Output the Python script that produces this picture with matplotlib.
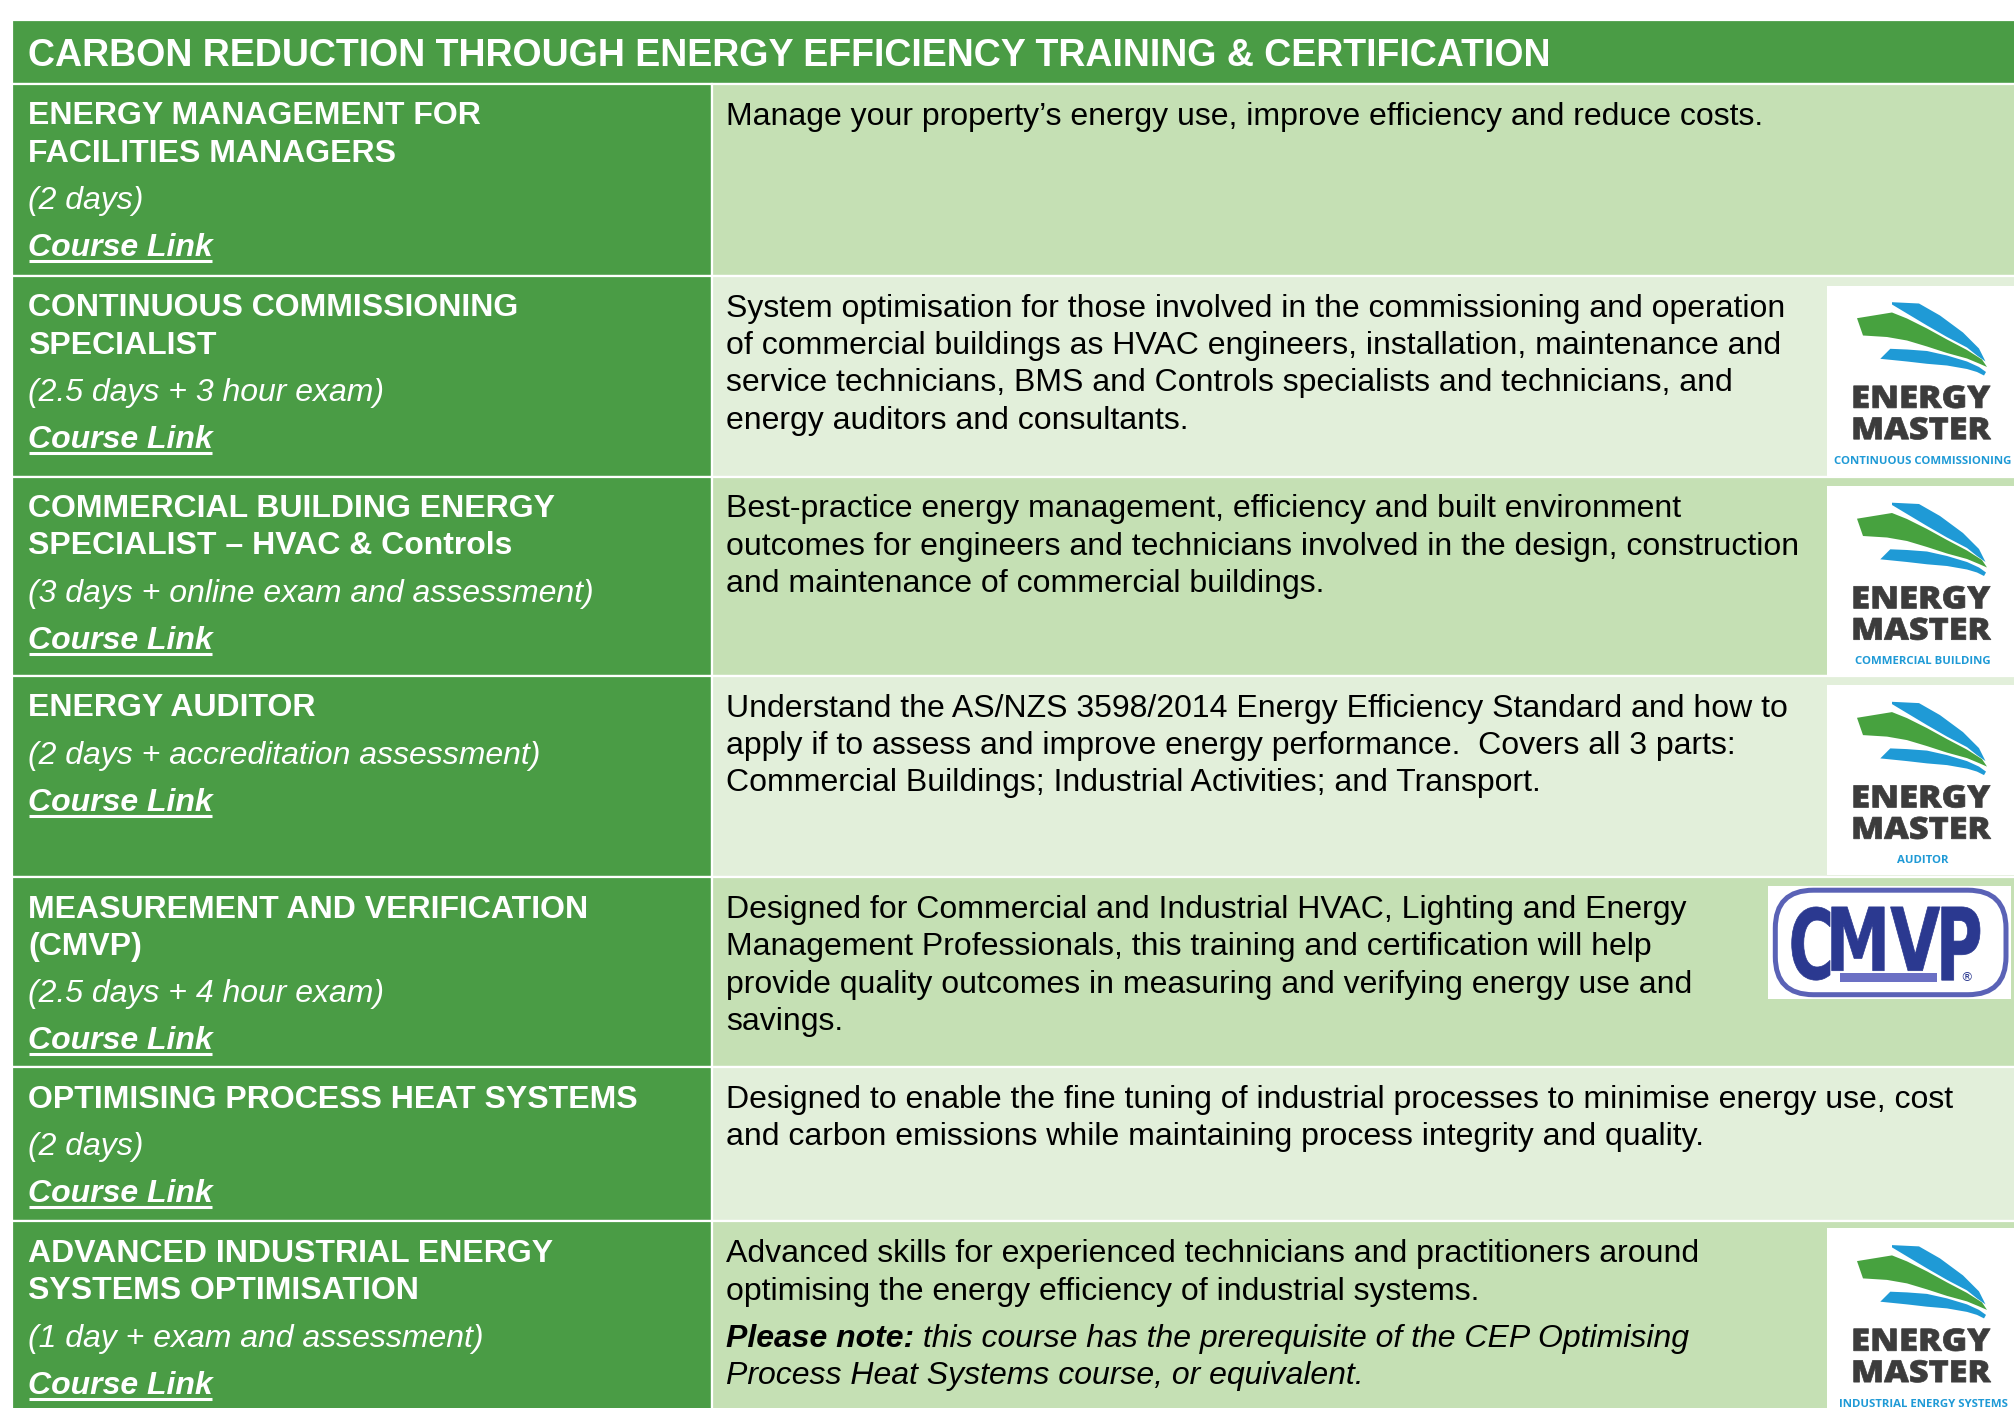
import matplotlib
matplotlib.use("Agg")
import matplotlib.pyplot as plt
from matplotlib.patches import Rectangle, Polygon, FancyBboxPatch, PathPatch
from matplotlib.textpath import TextPath
from matplotlib.font_manager import FontProperties
from matplotlib.transforms import Affine2D

# ---------------- data ----------------
table_title = "CARBON REDUCTION THROUGH ENERGY EFFICIENCY TRAINING & CERTIFICATION"

course_titles = [
    ["ENERGY MANAGEMENT FOR", "FACILITIES MANAGERS"],
    ["CONTINUOUS COMMISSIONING", "SPECIALIST"],
    ["COMMERCIAL BUILDING ENERGY", "SPECIALIST \u2013 HVAC & Controls"],
    ["ENERGY AUDITOR"],
    ["MEASUREMENT AND VERIFICATION", "(CMVP)"],
    ["OPTIMISING PROCESS HEAT SYSTEMS"],
    ["ADVANCED INDUSTRIAL ENERGY", "SYSTEMS OPTIMISATION"],
]

durations = [
    "(2 days)",
    "(2.5 days + 3 hour exam)",
    "(3 days + online exam and assessment)",
    "(2 days + accreditation assessment)",
    "(2.5 days + 4 hour exam)",
    "(2 days)",
    "(1 day + exam and assessment)",
]

link_label = "Course Link"

descriptions = [
    ["Manage your property\u2019s energy use, improve efficiency and reduce costs."],
    ["System optimisation for those involved in the commissioning and operation",
     "of commercial buildings as HVAC engineers, installation, maintenance and",
     "service technicians, BMS and Controls specialists and technicians, and",
     "energy auditors and consultants."],
    ["Best-practice energy management, efficiency and built environment",
     "outcomes for engineers and technicians involved in the design, construction",
     "and maintenance of commercial buildings."],
    ["Understand the AS/NZS 3598/2014 Energy Efficiency Standard and how to",
     "apply if to assess and improve energy performance.  Covers all 3 parts:",
     "Commercial Buildings; Industrial Activities; and Transport."],
    ["Designed for Commercial and Industrial HVAC, Lighting and Energy",
     "Management Professionals, this training and certification will help",
     "provide quality outcomes in measuring and verifying energy use and",
     "savings."],
    ["Designed to enable the fine tuning of industrial processes to minimise energy use, cost",
     "and carbon emissions while maintaining process integrity and quality."],
    ["Advanced skills for experienced technicians and practitioners around",
     "optimising the energy efficiency of industrial systems."],
]

note_labels = [None, None, None, None, None, None, "Please note:"]
note_texts = [None, None, None, None, None, None,
              [" this course has the prerequisite of the CEP Optimising",
               "Process Heat Systems course, or equivalent."]]

logo_kinds = [None, "energy", "energy", "energy", "cmvp", None, "energy"]
logo_subtitles = [None, "CONTINUOUS COMMISSIONING", "COMMERCIAL BUILDING", "AUDITOR",
                  None, None, "INDUSTRIAL ENERGY SYSTEMS"]
cmvp_letters = ["C", "MV", "P"]
logo_word1, logo_word2 = "ENERGY", "MASTER"

# ---------------- styling / layout ----------------
W, H = 2014, 1408
GREEN = "#4a9c45"
LIGHT1 = "#c5e0b4"
LIGHT2 = "#e2efda"
FONT = "Liberation Sans"
FS = 23
FS_HEAD = 27
LINE = 37.2

fig = plt.figure(figsize=(W / 100, H / 100), dpi=100)
ax = fig.add_axes([0, 0, 1, 1])
ax.set_xlim(0, W)
ax.set_ylim(H, 0)
ax.axis("off")

X_LEFT, X_DIV, X_RIGHT = 12, 711.5, W + 5
HEAD_TOP, HEAD_BOT = 20, 84
row_edges = [HEAD_BOT, 276, 476.5, 675.6, 877.2, 1067.3, 1221.4, H + 20]

renderer = fig.canvas.get_renderer()


def rect(x0, y0, x1, y1, color, ec="white", lw=1.6, z=1):
    ax.add_patch(Rectangle((x0, y0), x1 - x0, y1 - y0, facecolor=color,
                           edgecolor=ec, linewidth=lw, zorder=z))


def fit_path(s, x0, x1, ytop, ybase, color, family="DejaVu Sans", weight="bold", z=6):
    fp = FontProperties(family=family, weight=weight)
    tp = TextPath((0, 0), s, size=100, prop=fp)
    ext = tp.get_extents()
    tr = (Affine2D().translate(-ext.x0, -ext.y0)
          .scale((x1 - x0) / ext.width, -(ybase - ytop) / ext.height)
          .translate(x0, ybase))
    ax.add_patch(PathPatch(tr.transform_path(tp), facecolor=color,
                           edgecolor=color, linewidth=0.5, zorder=z))


def energy_logo(x0, y0, w, h, subtitle):
    rect(x0, y0, x0 + w, y0 + h, "white", ec="none", lw=0, z=3)

    def P(pts):
        return [(x0 + px, y0 + py) for px, py in pts]

    blue = "#1f9ad6"
    green = "#47a23f"
    blue_top = [(65, 16.7), (92, 18), (113, 30), (136, 47), (152, 63), (158.5, 76),
                (150, 70), (140, 62), (120, 51.5), (100, 40), (80, 28), (65, 19)]
    green_band = [(30, 32.7), (65, 27), (80, 33), (100, 43), (120, 54), (140, 64.5),
                  (155, 74), (160, 81.5), (152, 78), (140, 73), (120, 67.5), (100, 61),
                  (80, 55), (60, 51.5), (36, 50)]
    blue_low = [(63.3, 63.3), (80, 64), (100, 65.5), (120, 70), (140, 76), (152, 81.5),
                (159, 86.5), (157, 90), (150, 86.5), (140, 83.5), (120, 80), (100, 78.3),
                (80, 76), (53.3, 73.3)]
    for pts, c in ((blue_top, blue), (green_band, green), (blue_low, blue)):
        ax.add_patch(Polygon(P(pts), closed=True, facecolor=c, edgecolor="none", zorder=4))
    fit_path(logo_word1, x0 + 26.7, x0 + 163.3, y0 + 100, y0 + 122.7, "#3c3c3c",
             family="Open Sans", weight=800)
    fit_path(logo_word2, x0 + 26.7, x0 + 164, y0 + 131.7, y0 + 154, "#3c3c3c",
             family="Open Sans", weight=800)
    ax.text(x0 + 96, y0 + 178.3, subtitle, ha="center", va="baseline",
            fontsize=8.2, fontweight="bold", family="Open Sans", color=blue, zorder=6)


def cmvp_logo(x0, y0, x1, y1):
    rect(x0, y0, x1, y1, "white", ec="none", lw=0, z=3)
    ax.add_patch(FancyBboxPatch((x0 + 7, y0 + 4), (x1 - x0) - 12, (y1 - y0) - 8,
                                boxstyle="round,pad=0,rounding_size=38",
                                facecolor="white", edgecolor="#5a62b6", linewidth=3.6, zorder=4))
    navy = "#2b3990"
    fit_path(cmvp_letters[0], x0 + 23.4, x0 + 61.7, y0 + 20.7, y0 + 94, navy)
    fit_path(cmvp_letters[1], x0 + 63.4, x0 + 171.7, y0 + 20.7, y0 + 84.5, navy)
    fit_path(cmvp_letters[2], x0 + 173.4, x0 + 211.7, y0 + 20.7, y0 + 94, navy)
    ax.add_patch(Rectangle((x0 + 71.7, y0 + 86.5), 96.7, 9.5, facecolor="#6b70c4",
                           edgecolor="none", zorder=6))
    ax.text(x0 + 198.4, y0 + 95, "\u00ae", ha="center", va="baseline", fontsize=9,
            color=navy, family="DejaVu Sans", zorder=6)


def underline_text(x, y, s, **kw):
    t = ax.text(x, y, s, **kw)
    bb = t.get_window_extent(renderer=renderer)
    ax.plot([bb.x0 + 1, bb.x1 - 1], [y + 5, y + 5], color=kw.get("color", "white"),
            linewidth=2.2, solid_capstyle="butt", zorder=7)
    return t


# header
rect(X_LEFT, HEAD_TOP, X_RIGHT, HEAD_BOT, GREEN)
ax.text(28, 66, table_title, ha="left", va="baseline", fontsize=FS_HEAD,
        fontweight="bold", family=FONT, color="white", zorder=5)

for i in range(len(course_titles)):
    top, bot = row_edges[i], row_edges[i + 1]
    rect(X_LEFT, top, X_DIV, bot, GREEN)
    rect(X_DIV, top, X_RIGHT, bot, LIGHT1 if i % 2 == 0 else LIGHT2)

    # left column
    y = top + 40.5
    for k, line in enumerate(course_titles[i]):
        if k:
            y += LINE
        ax.text(28, y, line, ha="left", va="baseline", fontsize=FS, fontweight="bold",
                family=FONT, color="white", zorder=5)
    y += 47.5
    ax.text(28, y, durations[i], ha="left", va="baseline", fontsize=FS, style="italic",
            family=FONT, color="white", zorder=5)
    y += 47
    underline_text(28, y, link_label, ha="left", va="baseline", fontsize=FS,
                   fontweight="bold", style="italic", family=FONT, color="white", zorder=5)

    # description
    y = top + 41
    for k, line in enumerate(descriptions[i]):
        if k:
            y += LINE
        ax.text(726, y, line, ha="left", va="baseline", fontsize=FS, family=FONT,
                color="black", zorder=5)
    if note_labels[i]:
        y += 47.5
        t = ax.text(726, y, note_labels[i], ha="left", va="baseline", fontsize=FS,
                    fontweight="bold", style="italic", family=FONT, color="black", zorder=5)
        bb = t.get_window_extent(renderer=renderer)
        for k, line in enumerate(note_texts[i]):
            if k:
                y += LINE
                xs = 726
            else:
                xs = bb.x1
            ax.text(xs, y, line, ha="left", va="baseline", fontsize=FS, style="italic",
                    family=FONT, color="black", zorder=5)

    # logos
    if logo_kinds[i] == "energy":
        ltop = top + (7 if i == len(course_titles) - 1 else 9.5)
        energy_logo(1827, ltop, 190, 190, logo_subtitles[i])
    elif logo_kinds[i] == "cmvp":
        cmvp_logo(1768.3, top + 9, 2011, top + 121.5)

fig.savefig("out.png", dpi=100, facecolor="white")
